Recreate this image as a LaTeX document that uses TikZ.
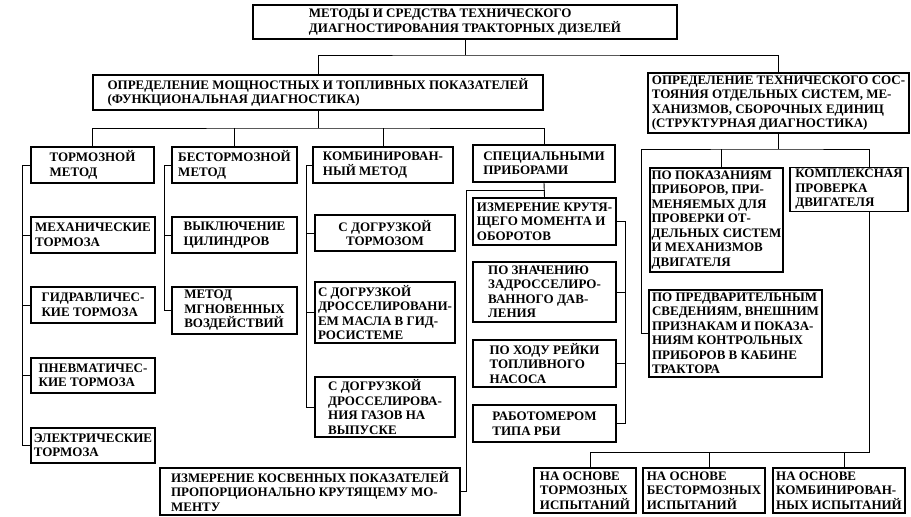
\documentclass[tikz,border=0pt]{standalone}
\usepackage{fontspec}
\setmainfont{Liberation Serif}

\begin{document}
\begin{tikzpicture}[
      x=1pt, y=-1pt,
      box/.style={rectangle, draw, line width=1.3pt, inner xsep=1.5pt, inner ysep=2pt, align=left, font=\bfseries\fontsize{13}{14.5}\selectfont},
      link/.style={line width=0.9pt}
    ]
    \useasboundingbox (0,0) rectangle (911,517);

    % Root
    \node[box, minimum width=424pt, minimum height=34pt] (root) at (465,22) {МЕТОДЫ И СРЕДСТВА ТЕХНИЧЕСКОГО\\ДИАГНОСТИРОВАНИЯ ТРАКТОРНЫХ ДИЗЕЛЕЙ};
    \node[box, minimum width=450pt, minimum height=35pt] (func) at (318,92.5) {ОПРЕДЕЛЕНИЕ МОЩНОСТНЫХ И ТОПЛИВНЫХ ПОКАЗАТЕЛЕЙ\\(ФУНКЦИОНАЛЬНАЯ ДИАГНОСТИКА)};
    \node[box, minimum width=261pt, minimum height=60pt] (struct) at (778.5,103) {ОПРЕДЕЛЕНИЕ ТЕХНИЧЕСКОГО СОС-\\ТОЯНИЯ ОТДЕЛЬНЫХ СИСТЕМ, МЕ-\\ХАНИЗМОВ, СБОРОЧНЫХ ЕДИНИЦ\\(СТРУКТУРНАЯ ДИАГНОСТИКА)};

    % Functional methods
    \node[box, minimum width=123pt, minimum height=36pt] (torm) at (92.5,165) {ТОРМОЗНОЙ\\МЕТОД};
    \node[box, minimum width=125pt, minimum height=36pt] (bestorm) at (234.5,165) {БЕСТОРМОЗНОЙ\\МЕТОД};
    \node[box, minimum width=140pt, minimum height=36pt] (komb) at (383,165) {КОМБИНИРОВАН-\\НЫЙ МЕТОД};
    \node[box, minimum width=142pt, minimum height=37pt] (spec) at (544,163.5) {СПЕЦИАЛЬНЫМИ\\ПРИБОРАМИ};

    % Brakes
    \node[box, minimum width=124pt, minimum height=36pt] (mech) at (93,235) {МЕХАНИЧЕСКИЕ\\ТОРМОЗА};
    \node[box, minimum width=124pt, minimum height=36pt] (gidr) at (93,305) {ГИДРАВЛИЧЕС-\\КИЕ ТОРМОЗА};
    \node[box, minimum width=124pt, minimum height=35pt] (pnev) at (93,375.5) {ПНЕВМАТИЧЕС-\\КИЕ ТОРМОЗА};
    \node[box, minimum width=124pt, minimum height=35pt] (elek) at (93,445.5) {ЭЛЕКТРИЧЕСКИЕ\\ТОРМОЗА};

    % Brakeless
    \node[box, minimum width=125pt, minimum height=36pt] (vykl) at (234.5,235) {ВЫКЛЮЧЕНИЕ\\ЦИЛИНДРОВ};
    \node[box, minimum width=125pt, minimum height=47pt] (mgnov) at (234.5,310.5) {МЕТОД\\МГНОВЕННЫХ\\ВОЗДЕЙСТВИЙ};

    % Combined
    \node[box, align=center, minimum width=140pt, minimum height=36pt] (dtorm) at (385,233) {С ДОГРУЗКОЙ\\ТОРМОЗОМ};
    \node[box, minimum width=140pt, minimum height=61pt] (dmasl) at (385,312.5) {С ДОГРУЗКОЙ\\ДРОССЕЛИРОВАНИ-\\ЕМ МАСЛА В ГИД-\\РОСИСТЕМЕ};
    \node[box, minimum width=140pt, minimum height=60pt] (dgaz) at (385,407) {С ДОГРУЗКОЙ\\ДРОССЕЛИРОВА-\\НИЯ ГАЗОВ НА\\ВЫПУСКЕ};

    % Special instruments
    \node[box, minimum width=143pt, minimum height=47pt] (krut) at (544.5,221.5) {ИЗМЕРЕНИЕ КРУТЯ-\\ЩЕГО МОМЕНТА И\\ОБОРОТОВ};
    \node[box, minimum width=143pt, minimum height=60pt] (znach) at (544.5,292) {ПО ЗНАЧЕНИЮ\\ЗАДРОССЕЛИРО-\\ВАННОГО ДАВ-\\ЛЕНИЯ};
    \node[box, minimum width=143pt, minimum height=47pt] (khod) at (544.5,363.5) {ПО ХОДУ РЕЙКИ\\ТОПЛИВНОГО\\НАСОСА};
    \node[box, minimum width=143pt, minimum height=37pt] (rabot) at (544.5,423.5) {РАБОТОМЕРОМ\\ТИПА РБИ};
    \node[box, minimum width=300pt, minimum height=47pt] (kosv) at (310,491.5) {ИЗМЕРЕНИЕ КОСВЕННЫХ ПОКАЗАТЕЛЕЙ\\ПРОПОРЦИОНАЛЬНО КРУТЯЩЕМУ МО-\\МЕНТУ};

    % Structural
    \node[box, minimum width=133pt, minimum height=104pt] (pokaz) at (716.5,220) {ПО ПОКАЗАНИЯМ\\ПРИБОРОВ, ПРИ-\\МЕНЯЕМЫХ ДЛЯ\\ПРОВЕРКИ ОТ-\\ДЕЛЬНЫХ СИСТЕМ\\И МЕХАНИЗМОВ\\ДВИГАТЕЛЯ};
    \node[box, minimum width=118pt, minimum height=43pt] (kompl) at (849,189.5) {КОМПЛЕКСНАЯ\\ПРОВЕРКА\\ДВИГАТЕЛЯ};
    \node[box, minimum width=173pt, minimum height=87pt] (predv) at (735.5,333.5) {ПО ПРЕДВАРИТЕЛЬНЫМ\\СВЕДЕНИЯМ, ВНЕШНИМ\\ПРИЗНАКАМ И ПОКАЗА-\\НИЯМ КОНТРОЛЬНЫХ\\ПРИБОРОВ В КАБИНЕ\\ТРАКТОРА};

    % Complex check
    \node[box, minimum width=102pt, minimum height=45pt] (osnt) at (585,490.5) {НА ОСНОВЕ\\ТОРМОЗНЫХ\\ИСПЫТАНИЙ};
    \node[box, minimum width=122pt, minimum height=45pt] (osnb) at (704,490.5) {НА ОСНОВЕ\\БЕСТОРМОЗНЫХ\\ИСПЫТАНИЙ};
    \node[box, minimum width=132pt, minimum height=45pt] (osnk) at (839,490.5) {НА ОСНОВЕ\\КОМБИНИРОВАН-\\НЫХ ИСПЫТАНИЙ};

    % Connections
    \coordinate (bus1) at (465,55);
    \coordinate (bus2) at (318,128);
    \coordinate (bus3) at (544.5,190);
    \coordinate (bus4) at (778.5,149);
    \coordinate (bus5) at (869,452);

    \draw[link] (root.south) -- (bus1);
    \draw[link] (func.north) |- (bus1) -| (struct.north);

    \draw[link] (func.south) -- (bus2);
    \draw[link] (torm.north) |- (bus2) -| (spec.north);
    \foreach \n in {bestorm, komb}
      \draw[link] (\n.north) -- (\n.north |- bus2);

    \draw[link] (torm.west) -- ++(-8,0) coordinate (c1) |- (elek.west);
    \foreach \n in {mech, gidr, pnev}
      \draw[link] (\n.west) -- (\n.west -| c1);

    \draw[link] (bestorm.west) -- ++(-7,0) coordinate (c2) |- (mgnov.west);
    \draw[link] (vykl.west) -- (vykl.west -| c2);

    \draw[link] (komb.west) -- ++(-6,0) coordinate (c3) |- (dgaz.west);
    \foreach \n in {dtorm, dmasl}
      \draw[link] (\n.west) -- (\n.west -| c3);

    \draw[link] (spec.south) -- (krut.north);
    \draw[link] (kosv.east) -| ([xshift=-78.5pt]bus3) -- (bus3);
    \draw[link] (krut.east) -- ++(9,0) coordinate (c4) |- (rabot.east);
    \foreach \n in {znach, khod}
      \draw[link] (\n.east) -- (\n.east -| c4);

    \draw[link] (struct.south) -- (bus4);
    \draw[link] (predv.west) -- ++(-7,0) |- (bus4) -| ([xshift=20pt]kompl.north);
    \draw[link] ([xshift=5pt]pokaz.north) -- ([xshift=5pt]pokaz.north |- bus4);

    \draw[link] ([xshift=20pt]kompl.south) -- (bus5) -| ([xshift=5pt]osnt.north);
    \foreach \n in {osnb, osnk}
      \draw[link] ([xshift=5pt]\n.north) -- ([xshift=5pt]\n.north |- bus5);

    \end{tikzpicture}
\end{document}
